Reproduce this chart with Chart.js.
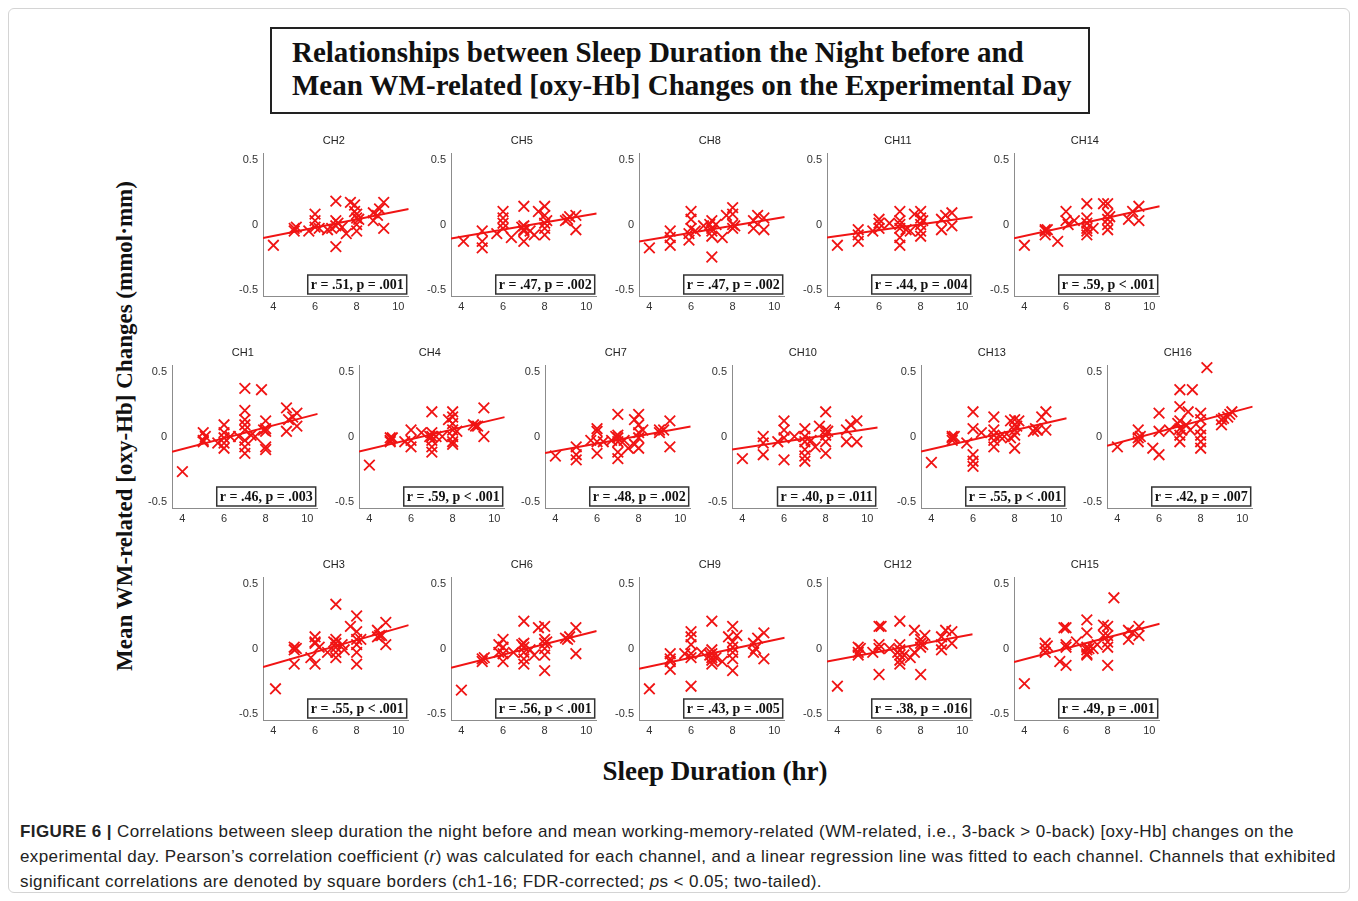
<!DOCTYPE html>
<html><head><meta charset="utf-8">
<script src="https://cdn.jsdelivr.net/npm/chart.js@4.4.0/dist/chart.umd.min.js"></script>
<style>
html,body{margin:0;padding:0;background:#fff;}
body{width:1358px;height:901px;position:relative;overflow:hidden;font-family:"Liberation Sans",Arial,sans-serif;}
#frame{position:absolute;left:8px;top:8px;width:1342px;height:885px;border:1px solid #d4d4d4;border-radius:6px;box-sizing:border-box;}
#titlebox{position:absolute;left:270px;top:27px;width:820px;height:87px;border:2px solid #222;box-sizing:border-box;font-family:"Liberation Serif","Times New Roman",serif;font-weight:bold;font-size:29px;line-height:33px;text-align:left;padding-top:7px;padding-left:20px;color:#111;white-space:nowrap;}
#ylab{position:absolute;left:-135px;top:412px;width:520px;height:28px;line-height:28px;text-align:center;transform:rotate(-90deg);font-family:"Liberation Serif","Times New Roman",serif;font-weight:bold;font-size:23px;color:#111;white-space:nowrap;}
#xlab{position:absolute;left:465px;top:755px;width:500px;text-align:center;font-family:"Liberation Serif","Times New Roman",serif;font-weight:bold;font-size:27px;line-height:32px;color:#111;}
#caption{position:absolute;left:20px;top:819px;font-size:17px;letter-spacing:0.4px;line-height:25px;color:#222;white-space:nowrap;}
canvas{position:absolute;}
</style></head>
<body>
<div id="frame"></div>
<div id="titlebox">Relationships between Sleep Duration the Night before and<br>Mean WM-related [oxy-Hb] Changes on the Experimental Day</div>
<div id="ylab">Mean WM-related [oxy-Hb] Changes (mmol·mm)</div>
<div id="xlab">Sleep Duration (hr)</div>
<div id="caption"><b>FIGURE 6 |</b> Correlations between sleep duration the night before and mean working-memory-related (WM-related, i.e., 3-back &gt; 0-back) [oxy-Hb] changes on the<br>experimental day. Pearson’s correlation coefficient (<i>r</i>) was calculated for each channel, and a linear regression line was fitted to each channel. Channels that exhibited<br>significant correlations are denoted by square borders (ch1-16; FDR-corrected; <i>p</i>s &lt; 0.05; two-tailed).</div>
<script>
// ---- data ----
const xTicks = [4, 6, 8, 10];
const yTicks = [-0.5, 0, 0.5];
const xRange = [3.5, 10.5];
const yRange = [-0.55, 0.55];

const channelNames = ["CH2","CH5","CH8","CH11","CH14","CH1","CH4","CH7","CH10","CH13","CH16","CH3","CH6","CH9","CH12","CH15"];
const statLabels = ["r = .51, p = .001","r = .47, p = .002","r = .47, p = .002","r = .44, p = .004","r = .59, p < .001",
  "r = .46, p = .003","r = .59, p < .001","r = .48, p = .002","r = .40, p = .011","r = .55, p < .001","r = .42, p = .007",
  "r = .55, p < .001","r = .56, p < .001","r = .43, p = .005","r = .38, p = .016","r = .49, p = .001"];
// regression line values at xRange[0] and xRange[1]
const lineStartY = [-0.104,-0.108,-0.131,-0.100,-0.106, -0.117,-0.115,-0.128,-0.100,-0.115,-0.072, -0.142,-0.148,-0.156,-0.100,-0.104];
const lineEndY   = [ 0.119, 0.084, 0.057, 0.057, 0.140,  0.174, 0.149, 0.077, 0.070, 0.140, 0.230,  0.180, 0.135, 0.083, 0.110, 0.190];

const ch2 = [[4,-0.16],[5,-0.03],[5,-0.05],[5.1,-0.02],[5.7,-0.05],[6,0.08],[6,0.03],[6,-0.02],[6.2,-0.03],[6.6,-0.04],[6.8,-0.03],[7,0.18],[7,-0.17],[7,0.03],[7,-0.01],[7.1,0.01],[7.3,-0.02],[7.5,-0.07],[7.7,0.17],[7.9,0.15],[7.9,0.1],[8,0.05],[8,0],[8,-0.05],[8.1,0.04],[8,0.08],[8.8,0.09],[8.8,0.03],[9,0.07],[9.1,0.12],[9.3,0.17],[9.3,-0.03]];
const ch5 = [[4.1,-0.13],[5,-0.05],[5,-0.13],[5,-0.18],[5.7,-0.07],[6,0.1],[6,0.05],[6,0.01],[6,-0.03],[6.4,-0.1],[7,0.14],[7,-0.01],[7,-0.04],[7,-0.13],[7,-0.05],[6.9,-0.02],[7.3,-0.05],[7.5,-0.08],[7.7,0.1],[8,0.14],[8,0.07],[8,0.01],[8,-0.03],[8,-0.08],[8.1,0.03],[9,0.03],[9.1,0.04],[9.2,0.06],[9.5,0.07],[9.5,-0.04]];
const ch8 = [[4,-0.18],[5,-0.05],[5,-0.1],[5,-0.16],[5.9,-0.07],[5.9,-0.12],[6,0.1],[6,0.04],[6,-0.03],[6.2,-0.05],[6.6,-0.01],[7,0.03],[7,-0.03],[7,-0.05],[7,-0.09],[7,-0.25],[6.9,0],[7.2,0],[7.5,-0.1],[7.7,0.07],[8,0.13],[8,0.08],[8,0],[8,-0.03],[8.1,-0.01],[9,0.03],[9,-0.03],[9.2,0.07],[9.5,0.05],[9.5,-0.04]];
const ch11 = [[4,-0.16],[5,-0.04],[5,-0.08],[5,-0.13],[5.7,-0.05],[6,0.04],[6,0.01],[6,-0.03],[6.5,0.01],[7,0.1],[7,0.03],[7,0],[7,-0.03],[7,-0.1],[7,-0.16],[7.3,-0.04],[7.5,-0.05],[7.7,0.08],[8,0.1],[8,0.05],[8,0],[8,-0.05],[8,-0.09],[8.1,0.03],[9,0.04],[9,-0.04],[9.2,0.07],[9.5,0.09],[9.5,-0.01]];
const ch14 = [[4,-0.16],[5,-0.04],[5,-0.05],[5,-0.08],[5.1,-0.04],[5.6,-0.13],[6,0.1],[6,0.03],[6.1,0],[6.4,0.03],[7,0.16],[7,0.05],[7,0.01],[7,-0.03],[7,-0.05],[7,-0.08],[7.3,-0.03],[7.8,0.16],[8,0.16],[8,0.08],[8,0.04],[8,0],[8,-0.04],[8.1,0.06],[9,0.04],[9.2,0.1],[9.5,0.14],[9.5,0.03]];
const ch1 = [[4,-0.27],[5,0.03],[5,-0.03],[5,-0.04],[5.1,0],[5.7,-0.05],[6,0.09],[6,0.03],[6,-0.01],[6,-0.05],[6,-0.09],[6.3,0],[6.7,0],[7,0.37],[7,0.2],[7,0.13],[7,0.09],[7,0.05],[7,-0.03],[7,-0.08],[7,-0.13],[7.3,0.01],[7.5,0],[7.8,0.36],[8,0.12],[8,0.06],[8,0.04],[8,-0.08],[8,-0.1],[7.9,0.05],[9,0.22],[9,0.04],[9.1,0.13],[9.3,0.15],[9.5,0.18],[9.5,0.08]];
const ch4 = [[4,-0.22],[5,-0.01],[5,-0.03],[5,-0.04],[5.1,-0.01],[5.7,-0.04],[6,0.05],[6,-0.03],[6,-0.08],[6.5,0.03],[7,0.19],[7,0.03],[7,0],[7,-0.03],[7,-0.08],[7,-0.12],[6.9,0],[7.2,0],[7.5,0],[7.8,0.13],[8,0.19],[8,0.15],[8,0.1],[8,0.05],[8,0],[8,-0.04],[8,-0.06],[8.2,0.04],[9,0.09],[9.1,0.08],[9.2,0.08],[9.5,0.22],[9.5,0]];
const ch7 = [[4,-0.15],[5,-0.08],[5,-0.14],[5,-0.18],[5.7,-0.03],[6,0.06],[6,0.04],[6,-0.04],[6,-0.13],[6.3,-0.04],[6.7,-0.03],[7,0.17],[7,0.01],[7,-0.01],[7,-0.04],[7,-0.12],[7,-0.17],[6.9,0],[7.3,-0.03],[7.5,-0.09],[7.8,0.13],[7.8,-0.06],[8,0.17],[8,0.09],[8,0.03],[8,-0.01],[8,-0.09],[8.2,0.05],[9,0.03],[9,0.05],[9.2,0.05],[9.5,0.12],[9.5,-0.08]];
const ch10 = [[4,-0.17],[5,0],[5,-0.05],[5,-0.14],[5.7,-0.04],[6,0.12],[6,0.05],[6,-0.01],[6,-0.18],[6.5,0],[7,0.06],[7,0],[7,-0.04],[7,-0.1],[7,-0.15],[7,-0.19],[7.3,-0.03],[7.5,-0.08],[7.7,0.08],[8,0.19],[8,0.05],[8,0.01],[8,-0.04],[8,-0.13],[8.1,0.04],[9,0.05],[9,-0.04],[9.2,0.09],[9.5,0.12],[9.5,-0.04]];
const ch13 = [[4,-0.2],[5,0],[5,-0.03],[5,-0.01],[5.1,0],[5.7,-0.05],[6,0.19],[6,0.06],[6,-0.14],[6,-0.19],[6,-0.23],[6.4,0.03],[7,0.15],[7,0.05],[7,0.01],[7,-0.03],[7,-0.08],[7.3,0],[7.5,0],[7.8,0.12],[7.8,-0.01],[8,0.13],[8,0.09],[8,0.05],[8,0.01],[8,-0.09],[8.1,0.08],[8.2,0.12],[9,0.06],[9.1,0.05],[8.9,0.04],[9.3,0.15],[9.5,0.19],[9.5,0.05]];
const ch16 = [[4,-0.08],[5,0.05],[5,-0.01],[5,-0.04],[5.1,0],[5.7,-0.09],[6,0.18],[6,0.04],[6,-0.14],[6.5,0.05],[6.9,0.1],[7,0.36],[7,0.23],[7,0.12],[7,0.06],[7,0.01],[7,-0.04],[7.1,0.05],[7.3,0.09],[7.4,0.19],[7.5,0.05],[7.6,0.36],[8,0.18],[8,0.13],[8,0.06],[8,0.01],[8,-0.04],[8,-0.09],[8.3,0.53],[9,0.13],[9,0.09],[9.1,0.14],[9.3,0.15],[9.4,0.17],[9.5,0.19]];
const ch3 = [[4.1,-0.31],[5,0.01],[5,-0.01],[5,-0.12],[5.1,0],[5.8,-0.07],[6,0.09],[6,0.05],[6,0.04],[6,-0.12],[6.2,0.01],[6.6,-0.03],[7,0.34],[7,0.07],[7,0.04],[7,0.01],[7,-0.03],[7,-0.07],[6.9,0.05],[7.3,0.03],[7.4,-0.01],[7.7,0.17],[8,0.25],[8,0.13],[8,0.07],[8,0.03],[8,-0.03],[8,-0.12],[8.2,0.07],[9,0.09],[9,0.14],[9.1,0.1],[9.2,0.1],[9.4,0.2],[9.4,0.03]];
const ch6 = [[4,-0.32],[5,-0.08],[5,-0.1],[5.1,-0.07],[5.8,0.03],[5.8,-0.03],[6,0.07],[6,0.01],[6,-0.04],[6,-0.1],[6.5,-0.03],[7,0.21],[7,0.04],[7,0.01],[7,-0.03],[7,-0.08],[7,-0.12],[6.9,0.03],[7.3,-0.01],[7.5,-0.05],[7.7,0.16],[8,0.17],[8,0.07],[8,0.04],[8,0],[8,-0.05],[8,-0.17],[8.1,0.05],[9,0.08],[9.1,0.07],[9.2,0.09],[9.5,0.16],[9.5,-0.04]];
const ch9 = [[4,-0.31],[5,-0.04],[5,-0.08],[5,-0.1],[5,-0.16],[5.7,-0.04],[6,0.13],[6,0.09],[6,0.03],[6,-0.04],[6,-0.07],[6,-0.29],[6.5,-0.03],[7,0.21],[7,-0.01],[7,-0.04],[7,-0.07],[7,-0.09],[7,-0.12],[6.9,-0.05],[7.2,-0.07],[7.5,-0.1],[7.8,0.09],[8,0.17],[8,0.05],[8,0.01],[8,-0.03],[8,-0.08],[8,-0.17],[8.2,0.1],[9,0.04],[9,-0.03],[9.1,0],[9.2,0.08],[9.5,0.12],[9.5,-0.08]];
const ch12 = [[4,-0.29],[5,0.01],[5,-0.03],[5,-0.05],[5.1,0],[5.7,-0.03],[6,0.17],[6.1,0.17],[6,0.03],[6,0],[6,-0.2],[6.5,0],[7,0.21],[7,0.03],[7,-0.01],[7,-0.05],[7,-0.09],[7,-0.12],[6.9,-0.03],[7.2,-0.05],[7.5,-0.07],[7.7,0.14],[7.7,-0.03],[8,0.07],[8,0.04],[8,0.01],[8,-0.2],[8.2,0.1],[8.1,0.03],[9,0.09],[9,0.03],[9,-0.01],[9.2,0.14],[9.5,0.13],[9.5,0.04]];
const ch15 = [[4,-0.27],[5,0.04],[5,0],[5,-0.03],[5.1,0.02],[5.7,-0.1],[5.9,0.16],[6,0.16],[6,0.03],[6,0.01],[6,-0.13],[6.5,0.05],[7,0.22],[7,0.12],[7,0.01],[7,-0.01],[7,-0.04],[7,-0.05],[7.1,0],[7.3,0],[7.5,0.03],[7.8,0.18],[7.8,0.1],[8,0.17],[8,0.1],[8,0.05],[8,0.01],[8,-0.13],[8.3,0.39],[9,0.14],[9,0.07],[9.2,0.12],[9.5,0.17],[9.5,0.1]];

const channelData = [ch2, ch5, ch8, ch11, ch14, ch1, ch4, ch7, ch10, ch13, ch16, ch3, ch6, ch9, ch12, ch15];

// ---- layout (pixel positions of each panel's axis origin) ----
const panelAxisX = [263, 450.5, 638.5, 826.5, 1014, 171.5, 358.5, 545, 732, 920.5, 1107, 263, 450.5, 638.5, 826.5, 1014];
const panelZeroY = [224, 224, 224, 224, 224, 436.7, 436.7, 436.7, 436.7, 436.7, 436.7, 648.5, 648.5, 648.5, 648.5, 648.5];
const PLOT_W = 147, PLOT_H = 143, PAD_L = 35, PAD_T = 22, PAD_B = 24, PAD_R = 8;
const RED = '#f01414';

const panelText = {
  id: 'panelText',
  afterDraw(chart, args, opts) {
    const {ctx, chartArea: a} = chart;
    ctx.save();
    ctx.font = '11px "Liberation Sans", Arial, sans-serif';
    ctx.fillStyle = '#222'; ctx.textAlign = 'center'; ctx.textBaseline = 'middle';
    ctx.fillText(opts.name, (a.left + a.right) / 2 - 2, a.top - 12.5);
    ctx.font = 'bold 14px "Liberation Serif", "Times New Roman", serif';
    const w = ctx.measureText(opts.stat).width + 6, h = 19;
    const bx = a.right - 2 - w, by = a.bottom - 2 - h;
    ctx.fillStyle = '#fff'; ctx.fillRect(bx, by, w, h);
    ctx.lineWidth = 1.5; ctx.strokeStyle = '#333'; ctx.strokeRect(bx, by, w, h);
    ctx.fillStyle = '#111'; ctx.textAlign = 'left';
    ctx.fillText(opts.stat, bx + 3, by + h / 2 + 1);
    ctx.restore();
  }
};

const tickFont = {family: '"Liberation Sans", Arial, sans-serif', size: 11};

channelData.forEach((pts, i) => {
  const c = document.createElement('canvas');
  const W = PAD_L + PLOT_W + PAD_R, H = PAD_T + PLOT_H + PAD_B;
  c.width = W; c.height = H;
  c.style.width = W + 'px'; c.style.height = H + 'px';
  c.style.left = (panelAxisX[i] - PAD_L) + 'px';
  c.style.top = (panelZeroY[i] - PLOT_H / 2 - PAD_T) + 'px';
  document.body.appendChild(c);
  new Chart(c.getContext('2d'), {
    type: 'scatter',
    data: {datasets: [
      {type: 'line', data: [{x: xRange[0], y: lineStartY[i]}, {x: xRange[1], y: lineEndY[i]}],
       borderColor: RED, borderWidth: 2, pointRadius: 0, order: 1},
      {data: pts.map(p => ({x: p[0], y: p[1]})), pointStyle: 'crossRot', pointRadius: 7.5,
       borderColor: RED, backgroundColor: RED, borderWidth: 1.8, showLine: false, clip: false, order: 0}
    ]},
    options: {
      responsive: false, animation: false, events: [],
      layout: {padding: {top: PAD_T, right: PAD_R, left: 0, bottom: 0}},
      plugins: {legend: {display: false}, tooltip: {enabled: false},
                panelText: {name: channelNames[i], stat: statLabels[i]}},
      scales: {
        x: {type: 'linear', min: xRange[0], max: xRange[1], grid: {display: false, drawTicks: false},
            border: {display: true, color: '#8c8c8c', width: 1},
            afterBuildTicks: s => { s.ticks = xTicks.map(v => ({value: v})); },
            afterFit: s => { s.height = PAD_B; },
            ticks: {font: tickFont, color: '#333', padding: 4, maxRotation: 0, autoSkip: false, callback: v => String(v)}},
        y: {type: 'linear', min: yRange[0], max: yRange[1], grid: {display: false, drawTicks: false},
            border: {display: true, color: '#8c8c8c', width: 1},
            afterBuildTicks: s => { s.ticks = yTicks.map(v => ({value: v})); },
            afterFit: s => { s.width = PAD_L; },
            ticks: {font: tickFont, color: '#333', padding: 5, autoSkip: false, callback: v => String(v)}}
      }
    },
    plugins: [panelText]
  });
});
</script>
</body></html>
